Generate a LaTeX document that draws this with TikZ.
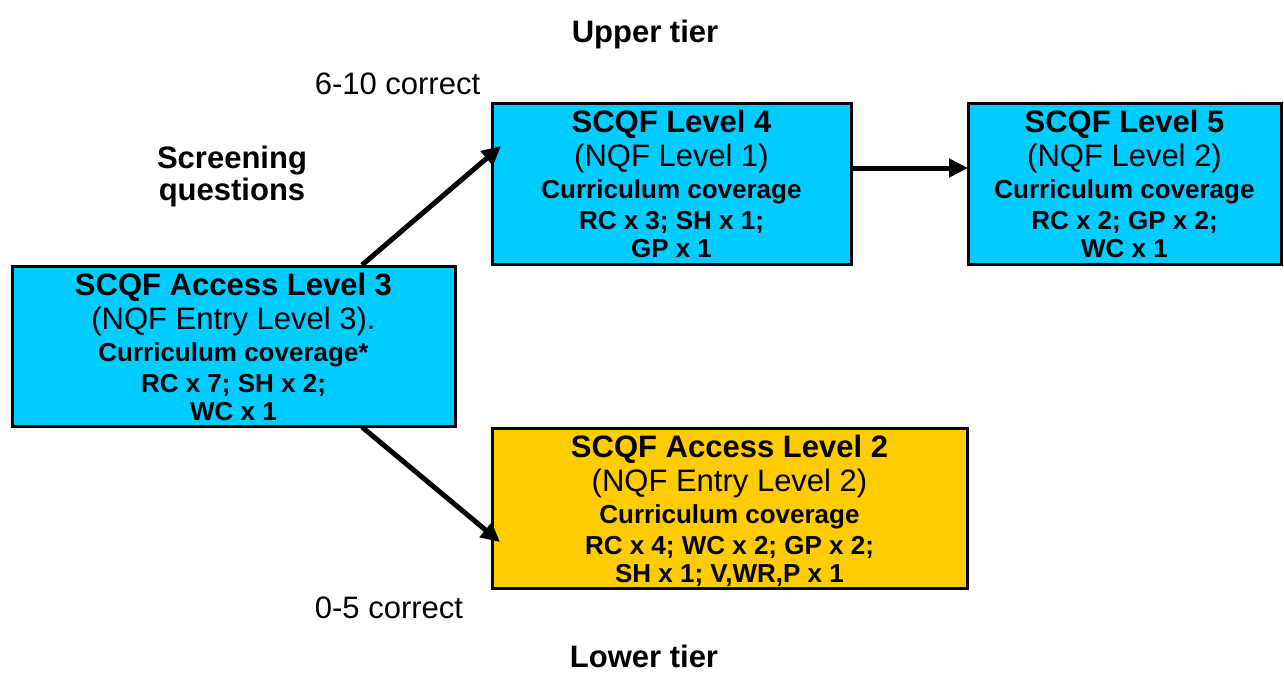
\documentclass[tikz,border=0pt]{standalone}
\usepackage{fontspec}
\setmainfont{Liberation Sans}
\usetikzlibrary{arrows.meta,calc}
\definecolor{boxcyan}{RGB}{0,204,255}
\definecolor{boxgold}{RGB}{255,204,0}
\newcommand\mybigfont{\fontsize{31}{36}\selectfont}
\newcommand\mysmallfont{\fontsize{26}{30}\selectfont\bfseries}
\newcommand\boxtext[6]{%
  \node[titleline] (#1-1) at ($(#1.north)+(0,29)$) {#2};
  \node[subline]   (#1-2) at ($(#1.north)+(0,63)$) {#3};
  \node[smallline] (#1-3) at ($(#1.north)+(0,95)$) {#4};
  \node[smallline] (#1-4) at ($(#1.north)+(0,126)$) {#5};
  \node[smallline] (#1-5) at ($(#1.north)+(0,154)$) {#6};}
\begin{document}
\begin{tikzpicture}[x=1pt,y=-1pt,
  box/.style={draw=black, line width=3pt, rectangle, inner sep=0pt, outer sep=0pt},
  titleline/.style={anchor=base, font=\mybigfont\bfseries, inner sep=0pt},
  subline/.style={anchor=base, font=\mybigfont, inner sep=0pt},
  smallline/.style={anchor=base, font=\mysmallfont, inner sep=0pt},
  plainlabel/.style={anchor=base, font=\mybigfont, inner sep=0pt},
  boldlabel/.style={anchor=base, font=\mybigfont\bfseries, inner sep=0pt},
  arr/.style={line width=5pt, -{Triangle[length=19pt,width=18pt]}}]
\useasboundingbox (0,0) rectangle (1284,673);
\fill[white] (0,0) rectangle (1284,673);

% boxes
\node[box, fill=boxcyan, minimum width=443pt, minimum height=160pt] (l3) at (233.5,346) {};
\node[box, fill=boxcyan, minimum width=359pt, minimum height=161pt] (l4) at (671.5,183.5) {};
\node[box, fill=boxcyan, minimum width=313pt, minimum height=161pt] (l5) at (1124.5,183.5) {};
\node[box, fill=boxgold, minimum width=475pt, minimum height=160pt] (l2) at (729.5,508) {};

\boxtext{l3}{SCQF Access Level 3}{(NQF Entry Level 3).}{Curriculum coverage*}{RC x 7; SH x 2;}{WC x 1}
\boxtext{l4}{SCQF Level 4}{(NQF Level 1)}{Curriculum coverage}{RC x 3; SH x 1;}{GP x 1}
\boxtext{l5}{SCQF Level 5}{(NQF Level 2)}{Curriculum coverage}{RC x 2; GP x 2;}{WC x 1}
\boxtext{l2}{SCQF Access Level 2}{(NQF Entry Level 2)}{Curriculum coverage}{RC x 4; WC x 2; GP x 2;}{SH x 1; V,WR,P x 1}

% labels
\node[boldlabel] (upper) at (645,42) {Upper tier};
\node[plainlabel] (c610) at (397.5,94) {6-10 correct};
\node[boldlabel] (scr1) at (232,168) {Screening};
\node[boldlabel] (scr2) at (232,200) {questions};
\node[plainlabel] (c05) at (389,618) {0-5 correct};
\node[boldlabel] (lower) at (644,667) {Lower tier};

% connectors
\coordinate (a1s) at ($(l3.north west)+(350,-1)$);
\coordinate (a1e) at ($(l4.north west)+(9,43)$);
\coordinate (a2s) at ($(l3.south west)+(350,1)$);
\coordinate (a2e) at ($(l2.north west)+(8,114)$);
\coordinate (a3s) at ($(l4.north east)+(0,65)$);
\coordinate (a3e) at ($(l5.north west)+(0,65)$);
\draw[arr] (a1s) -- (a1e);
\draw[arr] (a2s) -- (a2e);
\draw[arr] (a3s) -- (a3e);
\end{tikzpicture}
\end{document}
